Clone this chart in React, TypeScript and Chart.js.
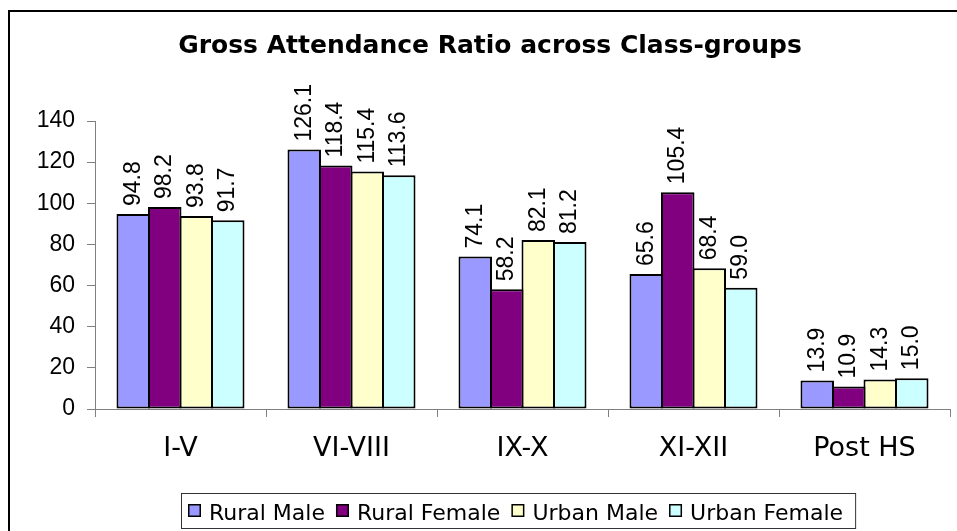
import React, { useEffect, useRef } from 'react';
import { Chart, registerables } from 'chart.js';

Chart.register(...registerables);

const categories = ['I-V', 'VI-VIII', 'IX-X', 'XI-XII', 'Post HS'];
const seriesNames = ['Rural Male', 'Rural Female', 'Urban Male', 'Urban Female'];
const ruralMale = [94.8, 126.1, 74.1, 65.6, 13.9];
const ruralFemale = [98.2, 118.4, 58.2, 105.4, 10.9];
const urbanMale = [93.8, 115.4, 82.1, 68.4, 14.3];
const urbanFemale = [91.7, 113.6, 81.2, 59.0, 15.0];
const yMin = 0;
const yMax = 140;
const yStep = 20;
const seriesColors = ['#9999FF', '#800080', '#FFFFCC', '#CCFFFF'];
const titleText = 'Gross Attendance Ratio across Class-groups';

const decorPlugin = {
  id: 'decor',
  afterDatasetsDraw(chart: any) {
    const ctx = chart.ctx;
    ctx.save();
    ctx.font = '23px "Liberation Sans"';
    ctx.fillStyle = '#000';
    ctx.textAlign = 'left';
    ctx.textBaseline = 'middle';
    chart.data.datasets.forEach((ds: any, i: number) => {
      const meta = chart.getDatasetMeta(i);
      meta.data.forEach((bar: any, j: number) => {
        const v = ds.data[j];
        ctx.save();
        ctx.translate(bar.x, bar.y - 8);
        ctx.rotate(-Math.PI / 2);
        ctx.fillText(Number(v).toFixed(1), 0, 0);
        ctx.restore();
      });
    });
    ctx.restore();
  },
  afterDraw(chart: any) {
    const ctx = chart.ctx;
    ctx.save();
    // outer frame
    ctx.strokeStyle = '#000';
    ctx.lineWidth = 2;
    ctx.beginPath();
    ctx.moveTo(9, 540);
    ctx.lineTo(9, 11);
    ctx.lineTo(970, 11);
    ctx.stroke();

    // title
    ctx.font = 'bold 25px "DejaVu Sans"';
    ctx.fillStyle = '#000';
    ctx.textAlign = 'center';
    ctx.textBaseline = 'alphabetic';
    ctx.fillText(titleText, 490, 53);

    // legend
    ctx.font = '22px "DejaVu Sans"';
    ctx.textAlign = 'left';
    let x = 188;
    const sqY = 504;
    const boxLeft = 181;
    chart.data.datasets.forEach((ds: any) => {
      ctx.fillStyle = ds.backgroundColor;
      ctx.fillRect(x, sqY, 13, 13);
      ctx.strokeStyle = '#000';
      ctx.lineWidth = 1.5;
      ctx.strokeRect(x + 0.75, sqY + 0.75, 11.5, 11.5);
      ctx.fillStyle = '#000';
      ctx.fillText(ds.label, x + 21, 520);
      x += 21 + ctx.measureText(ds.label).width + 11;
    });
    ctx.strokeStyle = '#333';
    ctx.lineWidth = 1;
    ctx.strokeRect(boxLeft + 0.5, 493.5, x + 1 - boxLeft, 35);
    ctx.restore();
  },
};

export default function App() {
  const ref = useRef<HTMLCanvasElement | null>(null);
  useEffect(() => {
    if (!ref.current) return;
    const seriesData = [ruralMale, ruralFemale, urbanMale, urbanFemale];
    const chart = new Chart(ref.current, {
      type: 'bar',
      data: {
        labels: categories,
        datasets: seriesNames.map((name, i) => ({
          label: name,
          data: seriesData[i],
          backgroundColor: seriesColors[i],
          borderColor: '#000',
          borderWidth: 2,
          borderSkipped: false,
          barPercentage: 1.063,
          categoryPercentage: 0.737,
        })),
      },
      options: {
        animation: false,
        responsive: false,
        events: [],
        layout: { padding: { top: 121, right: 7, bottom: 72, left: 0 } },
        plugins: {
          legend: { display: false },
          title: { display: false },
          tooltip: { enabled: false },
        },
        scales: {
          x: {
            offset: true,
            grid: {
              display: true,
              drawOnChartArea: false,
              drawTicks: true,
              tickLength: 8,
              color: '#808080',
              lineWidth: 1,
            },
            border: { display: true, color: '#808080', width: 1 },
            ticks: {
              font: { family: 'DejaVu Sans', size: 27 },
              color: '#000',
              padding: 16,
              maxRotation: 0,
              autoSkip: false,
            },
            afterFit: (s: any) => {
              s.height = 50;
            },
          },
          y: {
            min: yMin,
            max: yMax,
            ticks: {
              stepSize: yStep,
              font: { family: 'Liberation Sans', size: 23 },
              color: '#000',
              padding: 12,
            },
            grid: {
              drawOnChartArea: false,
              drawTicks: true,
              tickLength: 8,
              color: '#808080',
            },
            border: { display: true, color: '#808080', width: 1 },
            afterFit: (s: any) => {
              s.width = 95;
            },
          },
        },
      },
      plugins: [decorPlugin],
    });
    return () => chart.destroy();
  }, []);
  return (
    <div style={{ position: 'absolute', left: 0, top: 0, width: 957, height: 531, background: '#fff' }}>
      <canvas ref={ref} width={957} height={531} style={{ display: 'block' }} />
    </div>
  );
}
